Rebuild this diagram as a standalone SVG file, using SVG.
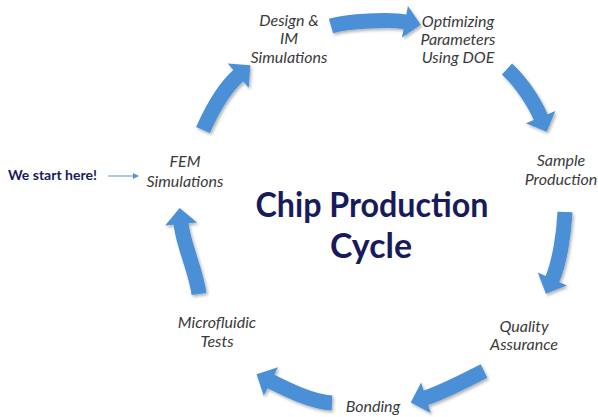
<svg xmlns="http://www.w3.org/2000/svg" width="598" height="417" viewBox="0 0 598 417">
  <style>
    .lbl { font-family: "Lato", "Open Sans", "Liberation Sans", sans-serif; font-style: italic; font-size: 16px; fill: #3a3a3a; text-anchor: middle; }
    .title { font-family: "Lato", "Liberation Sans", sans-serif; font-weight: 700; font-size: 34px; fill: #171b5c; text-anchor: middle; }
    .start { font-family: "Lato", "Liberation Sans", sans-serif; font-weight: 700; font-size: 14px; fill: #171b5c; }
    .flow { fill: none; stroke: #4b8fd6; stroke-width: 15; stroke-linecap: butt; marker-end: url(#head); }
    .pointer { fill: none; stroke: #5a93cf; stroke-width: 1; marker-end: url(#tiny); }
  </style>
  <defs>
    <marker id="head" markerUnits="userSpaceOnUse" markerWidth="17" markerHeight="33" refX="1" refY="16" orient="auto" overflow="visible">
      <path d="M0,0 L16,16 L0,32 Z" fill="#4b8fd6"/>
    </marker>
    <marker id="tiny" markerUnits="userSpaceOnUse" markerWidth="6" markerHeight="6" refX="5" refY="3" orient="auto" overflow="visible">
      <path d="M0,0 L6,3 L0,6 Z" fill="#5a93cf"/>
    </marker>
    <filter id="shade" x="-20%" y="-20%" width="140%" height="140%">
      <feDropShadow dx="1.5" dy="2" stdDeviation="1.5" flood-color="#000" flood-opacity="0.3"/>
    </filter>
  </defs>

  <rect width="598" height="417" fill="#ffffff"/>

  <!-- cycle arrows -->
  <g id="connectors" filter="url(#shade)">
    <path class="flow" d="M203,130 C211,112 224,88 239,75"/>
    <path class="flow" d="M331,26 C348,21 390,19 406,22"/>
    <path class="flow" d="M507,69 C520,81 534,101 541,118"/>
    <path class="flow" d="M565,212 C564,232 560,262 552,280"/>
    <path class="flow" d="M484,371 C466,380 444,392 425,398"/>
    <path class="flow" d="M332,403 C312,402 288,390 270,381"/>
    <path class="flow" d="M199,294 C196,270 183,245 181,223"/>
  </g>
  <g id="start-pointer">
    <path class="pointer" d="M108,176 L138,176"/>
  </g>

  <g id="fem">
    <text class="lbl" x="185" y="167">FEM</text>
    <text class="lbl" x="185" y="187">Simulations</text>
  </g>
  <g id="design">
    <text class="lbl" x="289" y="26">Design &amp;</text>
    <text class="lbl" x="289" y="44">IM</text>
    <text class="lbl" x="289" y="63">Simulations</text>
  </g>
  <g id="optimizing">
    <text class="lbl" x="458" y="27">Optimizing</text>
    <text class="lbl" x="458" y="45">Parameters</text>
    <text class="lbl" x="458" y="63">Using DOE</text>
  </g>
  <g id="sample">
    <text class="lbl" x="561" y="166">Sample</text>
    <text class="lbl" x="561" y="185">Production</text>
  </g>
  <g id="quality">
    <text class="lbl" x="524" y="332">Quality</text>
    <text class="lbl" x="524" y="350">Assurance</text>
  </g>
  <g id="bonding">
    <text class="lbl" x="373" y="412">Bonding</text>
  </g>
  <g id="microfluidic">
    <text class="lbl" x="217" y="328">Microfluidic</text>
    <text class="lbl" x="217" y="347">Tests</text>
  </g>
  <g id="start-note">
    <text class="start" x="8" y="180">We start here!</text>
  </g>
  <g id="title">
    <text class="title" x="372" y="217" textLength="233" lengthAdjust="spacingAndGlyphs">Chip Production</text>
    <text class="title" x="371" y="258" textLength="82" lengthAdjust="spacingAndGlyphs">Cycle</text>
  </g>
</svg>
